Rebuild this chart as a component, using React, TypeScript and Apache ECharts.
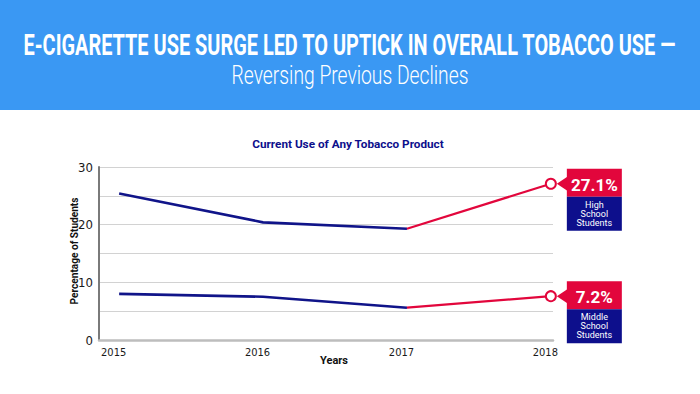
import React, { useEffect, useRef } from "react";
import * as echarts from "echarts";

const headline = "E-CIGARETTE USE SURGE LED TO UPTICK IN OVERALL TOBACCO USE —";
const subheadline = "Reversing Previous Declines";
const chartTitle = "Current Use of Any Tobacco Product";
const xAxisName = "Years";
const yAxisName = "Percentage of Students";

const years = [2015, 2016, 2017, 2018];
const highSchool = [25.4, 20.4, 19.3, 27.1];
const middleSchool = [8.0, 7.5, 5.6, 7.6];
const surgeFromIndex = 2; // red segment starts at 2017
const highSchoolLabel = "27.1%";
const middleSchoolLabel = "7.2%";
const highSchoolGroup = ["High", "School", "Students"];
const middleSchoolGroup = ["Middle", "School", "Students"];
const yTicks = [0, 10, 20, 30];

const NAVY = "#0d0f8c";
const LINE_NAVY = "#101489";
const RED = "#e2063c";
const BLUE = "#3a98f3";
const UI_FONT = "Roboto, 'Noto Sans', sans-serif";
const NARROW_FONT = "'Liberation Sans Narrow', 'DejaVu Sans Condensed', Roboto, sans-serif";

function measure(text: string, font: string): number {
  const c = document.createElement("canvas");
  const ctx = c.getContext("2d");
  if (!ctx) return text.length * 6;
  ctx.font = font;
  return ctx.measureText(text).width || 1;
}

function fitText(
  text: string,
  x: number,
  y: number,
  size: number,
  weight: number | string,
  color: string,
  targetWidth: number,
  rotation = 0
) {
  const w = measure(text, `${weight} ${size}px Roboto`);
  return {
    type: "text",
    x,
    y,
    scaleX: targetWidth / w,
    rotation,
    silent: true,
    style: {
      text,
      fill: color,
      font: `${weight} ${size}px ${UI_FONT}`,
      textAlign: "center",
      textVerticalAlign: "middle",
    },
  };
}

function callout(px: number, py: number, value: string, lines: string[]) {
  const bx = px + 16;
  const bw = 55;
  return [
    {
      type: "polygon",
      silent: true,
      shape: { points: [[px + 6, py], [bx + 0.5, py - 7], [bx + 0.5, py + 7]] },
      style: { fill: RED },
    },
    { type: "rect", silent: true, shape: { x: bx, y: py - 15, width: bw, height: 28 }, style: { fill: RED } },
    { type: "rect", silent: true, shape: { x: bx, y: py + 13, width: bw, height: 34 }, style: { fill: NAVY } },
    {
      type: "text",
      silent: true,
      x: bx + bw / 2,
      y: py + 1,
      style: {
        text: value,
        fill: "#ffffff",
        font: `bold 17px ${UI_FONT}`,
        textAlign: "center",
        textVerticalAlign: "middle",
      },
    },
    {
      type: "text",
      silent: true,
      x: bx + bw / 2,
      y: py + 30,
      style: {
        text: lines.join("\n"),
        fill: "#ffffff",
        font: `9px ${UI_FONT}`,
        lineHeight: 8.8,
        textAlign: "center",
        textVerticalAlign: "middle",
      },
    },
  ];
}

function pairs(vals: number[], from: number, to: number) {
  const out: any[] = [];
  for (let i = from; i <= to; i++) out.push([years[i], vals[i]]);
  return out;
}

function redPairs(vals: number[]) {
  const out: any[] = [];
  for (let i = surgeFromIndex; i < years.length; i++) {
    const last = i === years.length - 1;
    out.push({ value: [years[i], vals[i]], symbol: last ? "circle" : "none", symbolSize: last ? 10 : 0 });
  }
  return out;
}

export default function App() {
  const ref = useRef<HTMLDivElement>(null);

  useEffect(() => {
    if (!ref.current) return;
    const chart = echarts.init(ref.current, null, { renderer: "svg" });
    const option: any = {
      animation: false,
      backgroundColor: "#ffffff",
      grid: { left: 99, right: 147, top: 167, bottom: 54, containLabel: false },
      xAxis: {
        type: "value",
        min: 2014.86,
        max: 2018.015,
        axisLine: { show: true, onZero: false, lineStyle: { color: "#bdbdbd", width: 2.5 } },
        axisTick: { show: false },
        splitLine: { show: false },
        axisLabel: {
          customValues: years,
          color: "#1a1a1a",
          fontFamily: NARROW_FONT,
          fontSize: 11,
          margin: 7,
          formatter: (v: number) => `{a|${Math.round(v)}}`,
          rich: { a: { fontFamily: NARROW_FONT, fontSize: 11, color: "#1a1a1a", padding: [0, 11, 0, 0] } },
        },
      },
      yAxis: {
        type: "value",
        min: 0,
        max: 30,
        interval: 5,
        axisLine: { show: true, lineStyle: { color: "#7a7a7a", width: 2 } },
        axisTick: { show: false },
        splitLine: { show: true, lineStyle: { color: "#d2d2d2", width: 1.2 } },
        axisLabel: {
          color: "#1a1a1a",
          fontFamily: NARROW_FONT,
          fontSize: 13,
          margin: 6,
          formatter: (v: number) => (yTicks.indexOf(v) >= 0 ? String(v) : ""),
        },
      },
      series: [
        {
          type: "line",
          data: pairs(highSchool, 0, surgeFromIndex),
          showSymbol: false,
          lineStyle: { color: LINE_NAVY, width: 2.6 },
          z: 3,
        },
        {
          type: "line",
          data: redPairs(highSchool),
          lineStyle: { color: RED, width: 2.2 },
          itemStyle: { color: "#ffffff", borderColor: RED, borderWidth: 2 },
          z: 4,
        },
        {
          type: "line",
          data: pairs(middleSchool, 0, surgeFromIndex),
          showSymbol: false,
          lineStyle: { color: LINE_NAVY, width: 2.6 },
          z: 3,
        },
        {
          type: "line",
          data: redPairs(middleSchool),
          lineStyle: { color: RED, width: 2.2 },
          itemStyle: { color: "#ffffff", borderColor: RED, borderWidth: 2 },
          z: 4,
        },
      ],
    };
    chart.setOption(option);

    const last = years.length - 1;
    const hs = chart.convertToPixel({ gridIndex: 0 }, [years[last], highSchool[last]]) as number[];
    const ms = chart.convertToPixel({ gridIndex: 0 }, [years[last], middleSchool[last]]) as number[];

    const graphic: any[] = [
      { type: "rect", silent: true, shape: { x: 0, y: 0, width: 700, height: 110 }, style: { fill: BLUE } },
      fitText(headline, 349.5, 45, 29, "bold", "#ffffff", 653),
      fitText(subheadline, 350, 75.5, 26, 300, "#ffffff", 237),
      fitText(chartTitle, 348, 144, 11, "bold", NAVY, 192),
      fitText(yAxisName, 74, 251, 10.5, "bold", "#111111", 107, Math.PI / 2),
      fitText(xAxisName, 334, 361, 11, "bold", "#111111", 28),
      ...callout(hs[0], hs[1], highSchoolLabel, highSchoolGroup),
      ...callout(ms[0], ms[1], middleSchoolLabel, middleSchoolGroup),
    ];
    chart.setOption({ graphic });

    return () => chart.dispose();
  }, []);

  return (
    <div
      ref={ref}
      style={{ position: "fixed", left: 0, top: 0, width: 700, height: 394, background: "#ffffff" }}
    />
  );
}
